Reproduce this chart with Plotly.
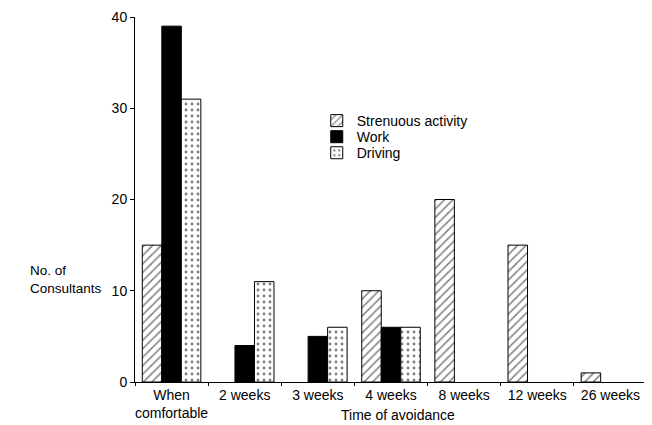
import plotly.graph_objects as go

categories = ["When<br>comfortable", "2 weeks", "3 weeks", "4 weeks", "8 weeks", "12 weeks", "26 weeks"]
strenuous = [15, 0, 0, 10, 20, 15, 1]
work = [39, 4, 5, 6, 0, 0, 0]
driving = [31, 11, 6, 6, 0, 0, 0]
y_ticks = [0, 10, 20, 30, 40]

font = "Liberation Sans, Arial, Helvetica, sans-serif"


def outline(vals):
    return [1 if v > 0 else 0 for v in vals]


fig = go.Figure()
fig.add_trace(go.Bar(
    x=categories, y=strenuous, name="Strenuous activity", legend="legend",
    marker=dict(color="white", line=dict(color="black", width=outline(strenuous)),
                pattern=dict(shape="/", fgcolor="black", bgcolor="white", size=6, solidity=0.25)),
))
fig.add_trace(go.Bar(
    x=categories, y=work, name="Work", legend="legend2",
    marker=dict(color="black", line=dict(color="black", width=outline(work))),
))
fig.add_trace(go.Bar(
    x=categories, y=driving, name="Driving", legend="legend3",
    marker=dict(color="white", line=dict(color="black", width=outline(driving)),
                pattern=dict(shape=".", fgcolor="black", bgcolor="white", size=6, solidity=0.18)),
))


def leg(y):
    return dict(x=0.355, y=y, xanchor="left", yanchor="middle",
                bgcolor="rgba(0,0,0,0)", font=dict(size=14), itemwidth=30)


fig.update_layout(
    width=652, height=425,
    margin=dict(l=127, r=13, t=9, b=51, autoexpand=False),
    paper_bgcolor="white", plot_bgcolor="white",
    barmode="group", bargap=0.2, bargroupgap=0,
    font=dict(family=font, size=14, color="black"),
    showlegend=True,
    legend=leg(0.715), legend2=leg(0.671), legend3=leg(0.627),
    xaxis=dict(showline=True, linecolor="black", linewidth=1, ticks="outside",
               tickson="boundaries", ticklen=3, tickcolor="black", showgrid=False,
               tickangle=0, tickfont=dict(size=14), automargin=False),
    yaxis=dict(range=[0, 40], showline=True, linecolor="black", linewidth=1,
               ticks="outside", ticklen=4, tickcolor="black", tickvals=y_ticks,
               showgrid=False, zeroline=False, tickfont=dict(size=14), automargin=False),
    annotations=[
        dict(text="No. of<br>Consultants", xref="paper", yref="paper",
             x=-0.209, y=0.282, xanchor="left", yanchor="middle", align="left",
             showarrow=False, font=dict(size=13.5)),
        dict(text="Time of avoidance", xref="paper", yref="paper",
             x=0.514, y=-0.090, xanchor="center", yanchor="middle",
             showarrow=False, font=dict(size=14)),
    ],
)

fig.write_html("out.html")
